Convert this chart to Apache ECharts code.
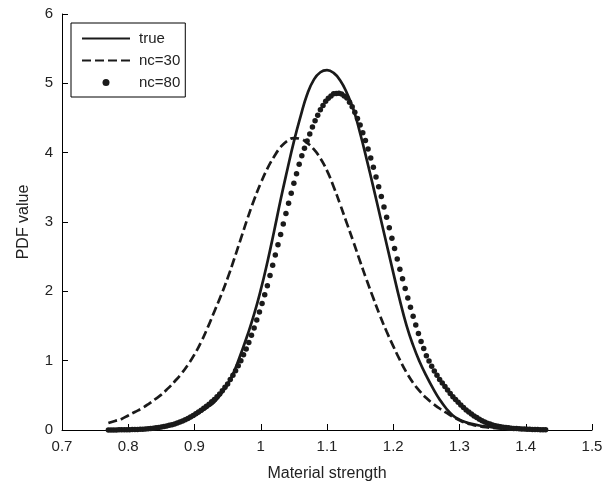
<!DOCTYPE html>
<html>
<head>
<meta charset="utf-8">
<script src="https://cdn.jsdelivr.net/npm/echarts@6/dist/echarts.min.js"></script>
<style>
  html, body { margin: 0; padding: 0; background: #fff; }
  #chart { width: 613px; height: 487px; }
</style>
</head>
<body>
<div id="chart"></div>
<script>
// material strength grid used by the two line curves (0.77 .. 1.43, step 0.01)
var lineStrength = [
    0.77, 0.78, 0.79, 0.80, 0.81, 0.82, 0.83, 0.84, 0.85, 0.86,
    0.87, 0.88, 0.89, 0.90, 0.91, 0.92, 0.93, 0.94, 0.95, 0.96,
    0.97, 0.98, 0.99, 1.00, 1.01, 1.02, 1.03, 1.04, 1.05, 1.06,
    1.07, 1.08, 1.09, 1.10, 1.11, 1.12, 1.13, 1.14, 1.15, 1.16,
    1.17, 1.18, 1.19, 1.20, 1.21, 1.22, 1.23, 1.24, 1.25, 1.26,
    1.27, 1.28, 1.29, 1.30, 1.31, 1.32, 1.33, 1.34, 1.35, 1.36,
    1.37, 1.38, 1.39, 1.40, 1.41, 1.42, 1.43
];
var truePdf = [
    0.000, 0.001, 0.002, 0.004, 0.007, 0.011, 0.018, 0.028, 0.042, 0.062,
    0.085, 0.115, 0.155, 0.205, 0.265, 0.330, 0.405, 0.520, 0.660, 0.850,
    1.100, 1.370, 1.670, 2.020, 2.420, 2.860, 3.320, 3.750, 4.160, 4.520,
    4.840, 5.050, 5.160, 5.190, 5.150, 5.040, 4.860, 4.620, 4.280, 3.900,
    3.500, 3.090, 2.680, 2.270, 1.870, 1.510, 1.220, 0.980, 0.780, 0.600,
    0.440, 0.310, 0.210, 0.150, 0.110, 0.085, 0.065, 0.050, 0.038, 0.028,
    0.020, 0.014, 0.010, 0.007, 0.005, 0.003, 0.002
];
var nc30Pdf = [
    0.100, 0.130, 0.160, 0.210, 0.260, 0.310, 0.370, 0.440, 0.510, 0.600,
    0.700, 0.810, 0.940, 1.090, 1.270, 1.480, 1.710, 1.940, 2.190, 2.470,
    2.760, 3.050, 3.320, 3.560, 3.770, 3.940, 4.080, 4.170, 4.210, 4.200,
    4.140, 4.050, 3.920, 3.740, 3.510, 3.250, 2.980, 2.710, 2.430, 2.160,
    1.900, 1.650, 1.420, 1.210, 1.010, 0.830, 0.680, 0.560, 0.460, 0.380,
    0.310, 0.250, 0.190, 0.140, 0.100, 0.075, 0.055, 0.040, 0.030, 0.022,
    0.016, 0.012, 0.009, 0.007, 0.005, 0.003, 0.002
];

// nc=80 is drawn as markers (0.770 .. 1.430, step 0.004)
var nc80Strength = [
    0.770, 0.774, 0.778, 0.782, 0.786, 0.790, 0.794, 0.798, 0.802, 0.806,
    0.810, 0.814, 0.818, 0.822, 0.826, 0.830, 0.834, 0.838, 0.842, 0.846,
    0.850, 0.854, 0.858, 0.862, 0.866, 0.870, 0.874, 0.878, 0.882, 0.886,
    0.890, 0.894, 0.898, 0.902, 0.906, 0.910, 0.914, 0.918, 0.922, 0.926,
    0.930, 0.934, 0.938, 0.942, 0.946, 0.950, 0.954, 0.958, 0.962, 0.966,
    0.970, 0.974, 0.978, 0.982, 0.986, 0.990, 0.994, 0.998, 1.002, 1.006,
    1.010, 1.014, 1.018, 1.022, 1.026, 1.030, 1.034, 1.038, 1.042, 1.046,
    1.050, 1.054, 1.058, 1.062, 1.066, 1.070, 1.074, 1.078, 1.082, 1.086,
    1.090, 1.094, 1.098, 1.102, 1.106, 1.110, 1.114, 1.118, 1.122, 1.126,
    1.130, 1.134, 1.138, 1.142, 1.146, 1.150, 1.154, 1.158, 1.162, 1.166,
    1.170, 1.174, 1.178, 1.182, 1.186, 1.190, 1.194, 1.198, 1.202, 1.206,
    1.210, 1.214, 1.218, 1.222, 1.226, 1.230, 1.234, 1.238, 1.242, 1.246,
    1.250, 1.254, 1.258, 1.262, 1.266, 1.270, 1.274, 1.278, 1.282, 1.286,
    1.290, 1.294, 1.298, 1.302, 1.306, 1.310, 1.314, 1.318, 1.322, 1.326,
    1.330, 1.334, 1.338, 1.342, 1.346, 1.350, 1.354, 1.358, 1.362, 1.366,
    1.370, 1.374, 1.378, 1.382, 1.386, 1.390, 1.394, 1.398, 1.402, 1.406,
    1.410, 1.414, 1.418, 1.422, 1.426, 1.430
];
var nc80Pdf = [
    0.000, 0.000, 0.001, 0.001, 0.002, 0.002, 0.003, 0.004, 0.005, 0.006,
    0.007, 0.009, 0.010, 0.012, 0.015, 0.018, 0.022, 0.026, 0.031, 0.036,
    0.042, 0.050, 0.058, 0.067, 0.077, 0.088, 0.102, 0.115, 0.130, 0.148,
    0.165, 0.187, 0.209, 0.233, 0.259, 0.285, 0.313, 0.341, 0.372, 0.406,
    0.440, 0.480, 0.520, 0.565, 0.615, 0.665, 0.727, 0.789, 0.856, 0.928,
    1.000, 1.084, 1.168, 1.262, 1.366, 1.470, 1.586, 1.702, 1.824, 1.952,
    2.080, 2.228, 2.376, 2.524, 2.672, 2.820, 2.972, 3.124, 3.272, 3.416,
    3.560, 3.696, 3.832, 3.954, 4.062, 4.170, 4.270, 4.370, 4.460, 4.540,
    4.620, 4.680, 4.740, 4.786, 4.818, 4.850, 4.854, 4.858, 4.846, 4.818,
    4.790, 4.726, 4.662, 4.584, 4.492, 4.400, 4.288, 4.176, 4.054, 3.922,
    3.790, 3.650, 3.510, 3.366, 3.218, 3.070, 2.918, 2.766, 2.616, 2.468,
    2.320, 2.180, 2.040, 1.904, 1.772, 1.640, 1.516, 1.392, 1.278, 1.174,
    1.070, 0.994, 0.918, 0.850, 0.790, 0.730, 0.678, 0.626, 0.576, 0.528,
    0.480, 0.440, 0.400, 0.362, 0.326, 0.290, 0.260, 0.230, 0.203, 0.179,
    0.155, 0.135, 0.115, 0.098, 0.085, 0.072, 0.063, 0.054, 0.047, 0.041,
    0.035, 0.031, 0.027, 0.023, 0.020, 0.017, 0.015, 0.013, 0.011, 0.010,
    0.008, 0.007, 0.006, 0.005, 0.004, 0.003
];

function pairs(xs, ys) {
    var out = [];
    for (var i = 0; i < xs.length; i++) {
        out.push([xs[i], ys[i]]);
    }
    return out;
}

var ink = '#1a1a1a';
var fontFamily = '"Liberation Sans", Arial, Helvetica, sans-serif';

var chart = echarts.init(document.getElementById('chart'), null, { renderer: 'canvas' });

var option = {
    animation: false,
    backgroundColor: '#fff',
    textStyle: { fontFamily: fontFamily, color: '#222' },
    grid: { left: 62, right: 21, top: 14, bottom: 57 },
    legend: {
        orient: 'vertical',
        left: 71,
        top: 23,
        padding: [8, 5, 7, 10],
        itemWidth: 48,
        itemHeight: 7,
        itemGap: 7,
        borderColor: '#000',
        borderWidth: 1,
        backgroundColor: '#fff',
        selectedMode: false,
        textStyle: { fontSize: 15, color: '#222', fontFamily: fontFamily, padding: [0, 0, 0, 4] },
        data: [
            { name: 'true', itemStyle: { opacity: 0 } },
            { name: 'nc=30', itemStyle: { opacity: 0 } },
            { name: 'nc=80' }
        ]
    },
    xAxis: {
        type: 'value',
        min: 0.7,
        max: 1.5,
        interval: 0.1,
        name: 'Material strength',
        nameLocation: 'middle',
        nameGap: 36,
        nameTextStyle: { fontSize: 16, color: '#222' },
        axisLine: { lineStyle: { color: '#000', width: 1 } },
        axisTick: { inside: true, length: 6, lineStyle: { color: '#000' } },
        axisLabel: { fontSize: 15, color: '#222', margin: 9 },
        splitLine: { show: false }
    },
    yAxis: {
        type: 'value',
        min: 0,
        max: 6,
        interval: 1,
        name: 'PDF value',
        nameLocation: 'middle',
        nameGap: 30,
        nameTextStyle: { fontSize: 16, color: '#222' },
        axisLine: { show: true, lineStyle: { color: '#000', width: 1 } },
        axisTick: { show: true, inside: true, length: 6, lineStyle: { color: '#000' } },
        axisLabel: { fontSize: 15, color: '#222', margin: 9 },
        splitLine: { show: false }
    },
    series: [
        {
            name: 'true',
            type: 'line',
            data: pairs(lineStrength, truePdf),
            smooth: true,
            symbol: 'none',
            lineStyle: { color: ink, width: 2.7 },
            itemStyle: { color: ink },
            z: 2
        },
        {
            name: 'nc=30',
            type: 'line',
            data: pairs(lineStrength, nc30Pdf),
            smooth: true,
            symbol: 'none',
            lineStyle: { color: ink, width: 2.7, type: [9, 4] },
            itemStyle: { color: ink },
            z: 2
        },
        {
            name: 'nc=80',
            type: 'scatter',
            data: pairs(nc80Strength, nc80Pdf),
            symbol: 'circle',
            symbolSize: 5.5,
            itemStyle: { color: ink, opacity: 1 },
            z: 3
        }
    ]
};

chart.setOption(option);
</script>
</body>
</html>
